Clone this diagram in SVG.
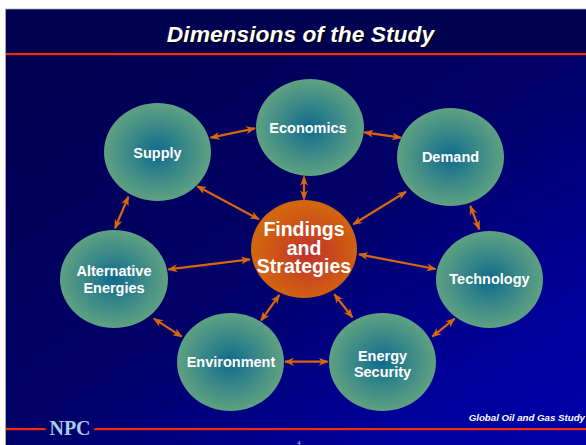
<svg xmlns="http://www.w3.org/2000/svg" width="586" height="445" viewBox="0 0 586 445">
<defs>
<linearGradient id="bg" x1="0" y1="0" x2="1" y2="1">
<stop offset="0" stop-color="#000050"/>
<stop offset="0.5" stop-color="#000068"/>
<stop offset="0.8" stop-color="#00009a"/>
<stop offset="1" stop-color="#0000a8"/>
</linearGradient>
<radialGradient id="teal" cx="0.5" cy="0.5" r="0.5">
<stop offset="0" stop-color="#0f6a8c"/>
<stop offset="0.55" stop-color="#3c8a88"/>
<stop offset="1" stop-color="#5fa181"/>
</radialGradient>
<radialGradient id="orange" cx="0.55" cy="0.55" r="0.5">
<stop offset="0" stop-color="#c03030"/>
<stop offset="0.6" stop-color="#cc5018"/>
<stop offset="1" stop-color="#d2650f"/>
</radialGradient>
<marker id="ah" viewBox="0 0 10 8" refX="9" refY="4" markerWidth="10" markerHeight="8" markerUnits="userSpaceOnUse" orient="auto-start-reverse">
<path d="M0,0 L10,4 L0,8 L3,4 z" fill="#d8660e"/>
</marker>
</defs>
<style>
.node text{font-family:"Liberation Sans",Arial,sans-serif;font-weight:bold;font-size:14.5px;fill:#ffffff;text-anchor:middle}
.dim{fill:url(#teal)}
.conn line{stroke:#d8660e;stroke-width:2.2;marker-start:url(#ah);marker-end:url(#ah)}
</style>
<rect x="0" y="0" width="586" height="445" fill="#ffffff"/>
<rect x="5.5" y="9" width="581" height="436" fill="#000050" stroke="#b0b0b0" stroke-width="0.8"/>
<rect x="6" y="55" width="580" height="390" fill="url(#bg)"/>
<rect x="6" y="53" width="580" height="2.2" fill="#ff2a00"/>
<g id="title" font-family="Liberation Sans,Arial,sans-serif" font-weight="bold" font-style="italic" font-size="22.8" text-anchor="middle">
<text x="302" y="43" fill="#000000">Dimensions of the Study</text>
<text x="300.5" y="41.5" fill="#ffffff">Dimensions of the Study</text>
</g>
<g id="connectors" class="conn">
<line x1="210.7" y1="137.7" x2="255" y2="128.3"/>
<line x1="364.3" y1="132.3" x2="401" y2="137.7"/>
<line x1="304" y1="176.7" x2="304" y2="199.3"/>
<line x1="197.3" y1="186.3" x2="259" y2="219.3"/>
<line x1="406" y1="191.7" x2="353.3" y2="224.3"/>
<line x1="470.3" y1="206" x2="479.3" y2="229.3"/>
<line x1="128.3" y1="196.7" x2="115" y2="228.3"/>
<line x1="168.3" y1="269.3" x2="250" y2="259.3"/>
<line x1="359" y1="254.3" x2="435.7" y2="269"/>
<line x1="154" y1="318.7" x2="181.7" y2="336.7"/>
<line x1="279.3" y1="295" x2="261" y2="320.7"/>
<line x1="334.3" y1="294.3" x2="352.3" y2="317.3"/>
<line x1="454.7" y1="318.7" x2="432.3" y2="336.7"/>
<line x1="285" y1="361.7" x2="327.7" y2="361.7"/>
</g>
<g id="supply" class="node">
<ellipse class="dim" cx="157.5" cy="152" rx="53.5" ry="49"/>
<text x="157.5" y="157.5">Supply</text>
</g>
<g id="economics" class="node">
<ellipse class="dim" cx="310" cy="127.5" rx="54" ry="48.5"/>
<text x="308" y="133">Economics</text>
</g>
<g id="demand" class="node">
<ellipse class="dim" cx="450.5" cy="157" rx="53.5" ry="49"/>
<text x="450.5" y="162.3">Demand</text>
</g>
<g id="technology" class="node">
<ellipse class="dim" cx="489.5" cy="279.5" rx="53.5" ry="48.5"/>
<text x="489.5" y="284.3">Technology</text>
</g>
<g id="energy-security" class="node">
<ellipse class="dim" cx="382.5" cy="362" rx="53.5" ry="49"/>
<text x="382.5" y="361">Energy<tspan x="382.5" y="377">Security</tspan></text>
</g>
<g id="environment" class="node">
<ellipse class="dim" cx="230.5" cy="362" rx="53.5" ry="49"/>
<text x="231" y="366.7">Environment</text>
</g>
<g id="alternative-energies" class="node">
<ellipse class="dim" cx="114" cy="279" rx="54" ry="49"/>
<text x="114" y="276">Alternative<tspan x="114" y="292.7">Energies</tspan></text>
</g>
<g id="findings" class="node">
<ellipse cx="304" cy="249" rx="53" ry="49" fill="url(#orange)"/>
<text x="304" y="236" style="font-size:19.5px">Findings<tspan x="304" y="254.5">and</tspan><tspan x="304" y="273.3">Strategies</tspan></text>
</g>
<g id="footer">
<rect x="6" y="428" width="39.7" height="2.2" fill="#ff2a00"/>
<rect x="94.3" y="428" width="491.7" height="2.2" fill="#ff2a00"/>
<text x="70" y="435.3" font-family="Liberation Serif,Times New Roman,serif" font-weight="bold" font-size="20" fill="#a8cce4" text-anchor="middle">NPC</text>
<text x="585" y="420.7" font-family="Liberation Sans,Arial,sans-serif" font-weight="bold" font-style="italic" font-size="9.7" fill="#ffffff" text-anchor="end">Global Oil and Gas Study</text>
<text x="299" y="444.5" font-family="Liberation Sans,Arial,sans-serif" font-size="6" fill="#c0c8e0" text-anchor="middle">4</text>
</g>
</svg>
